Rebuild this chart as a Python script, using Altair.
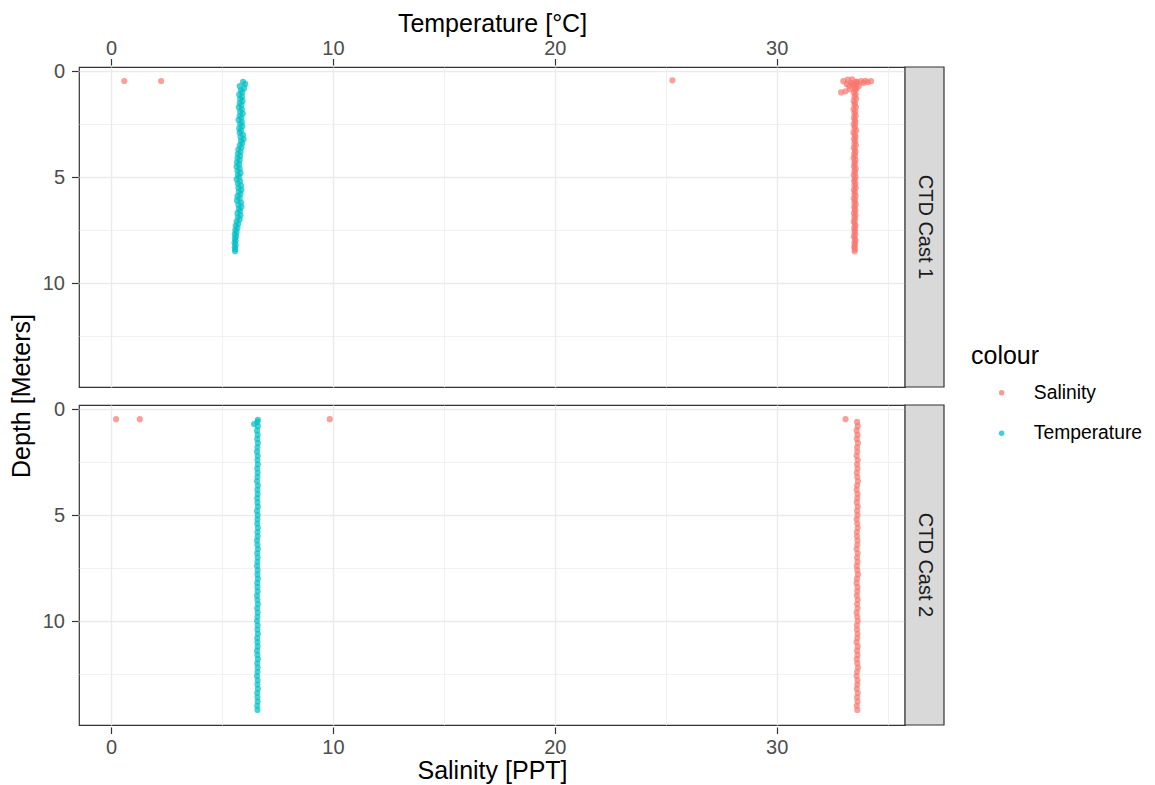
import altair as alt
import pandas as pd

# ---------------- data ----------------
cast_names = ["CTD Cast 1", "CTD Cast 2"]
series_names = ["Salinity", "Temperature"]

c1_depth = [0.5,0.6,0.7,0.8,0.9,1.0,1.1,1.2,1.3,1.4,1.5,1.6,1.7,1.8,1.9,2.0,2.1,2.2,2.3,2.4,
            2.5,2.6,2.7,2.8,2.9,3.0,3.1,3.2,3.3,3.4,3.5,3.6,3.7,3.8,3.9,4.0,4.1,4.2,4.3,4.4,
            4.5,4.6,4.7,4.8,4.9,5.0,5.1,5.2,5.3,5.4,5.5,5.6,5.7,5.8,5.9,6.0,6.1,6.2,6.3,6.4,
            6.5,6.6,6.7,6.8,6.9,7.0,7.1,7.2,7.3,7.4,7.5,7.6,7.7,7.8,7.9,8.0,8.1,8.2,8.3,8.4,8.5]
c1_temp = [5.95,6.05,5.80,6.00,5.85,5.92,5.78,5.90,5.82,5.93,
           5.80,5.88,5.76,5.90,5.82,5.94,5.80,5.88,5.75,5.90,
           5.82,5.92,5.78,5.86,5.80,5.95,5.84,5.98,5.86,5.92,
           5.80,5.88,5.74,5.84,5.72,5.82,5.70,5.80,5.68,5.78,
           5.66,5.80,5.70,5.84,5.72,5.78,5.66,5.82,5.72,5.86,
           5.74,5.88,5.76,5.84,5.70,5.80,5.68,5.86,5.74,5.88,
           5.76,5.82,5.70,5.84,5.72,5.80,5.66,5.74,5.62,5.70,
           5.60,5.66,5.58,5.64,5.58,5.62,5.57,5.62,5.58,5.60,
           5.59]
c1_sal = [33.60,33.42,33.70,33.50,33.55,33.48,33.56,33.50,33.58,33.47,
          33.53,33.50,33.57,33.46,33.54,33.50,33.56,33.48,33.52,33.55,
          33.47,33.53,33.50,33.58,33.46,33.52,33.55,33.48,33.54,33.50,
          33.57,33.47,33.52,33.55,33.49,33.53,33.46,33.55,33.50,33.52,
          33.48,33.56,33.50,33.53,33.47,33.55,33.51,33.49,33.54,33.50,
          33.56,33.48,33.52,33.50,33.55,33.47,33.53,33.50,33.56,33.49,
          33.52,33.54,33.48,33.55,33.50,33.53,33.47,33.52,33.55,33.49,
          33.53,33.50,33.54,33.48,33.52,33.55,33.50,33.53,33.49,33.52,
          33.51]
# surface readings of cast 1 (salinity spikes near the top)
c1_sal_top_depth = [0.46,0.46,0.43,1.00,0.47,0.38,0.47,0.47,0.52,0.60,0.70,0.85,0.40,0.55,0.45,0.60,0.50,0.65,0.80,0.55,0.95]
c1_sal_top = [0.60,2.26,25.30,32.90,33.00,33.40,33.80,34.25,34.10,33.60,33.25,33.30,33.20,33.90,34.00,33.15,33.60,33.45,33.60,33.35,33.10]

c2_depth = [0.6,0.8,1.0,1.2,1.4,1.6,1.8,2.0,2.2,2.4,2.6,2.8,3.0,3.2,3.4,3.6,3.8,4.0,4.2,4.4,
            4.6,4.8,5.0,5.2,5.4,5.6,5.8,6.0,6.2,6.4,6.6,6.8,7.0,7.2,7.4,7.6,7.8,8.0,8.2,8.4,
            8.6,8.8,9.0,9.2,9.4,9.6,9.8,10.0,10.2,10.4,10.6,10.8,11.0,11.2,11.4,11.6,11.8,12.0,12.2,12.4,
            12.6,12.8,13.0,13.2,13.4,13.6,13.8,14.0,14.2]
c2_temp = [6.60,6.62,6.58,6.61,6.59,6.62,6.60,6.58,6.61,6.60,
           6.62,6.59,6.61,6.60,6.58,6.62,6.60,6.61,6.59,6.60,
           6.62,6.58,6.61,6.60,6.59,6.62,6.60,6.61,6.58,6.60,
           6.62,6.59,6.61,6.60,6.58,6.61,6.60,6.62,6.59,6.60,
           6.61,6.58,6.60,6.62,6.59,6.61,6.60,6.58,6.61,6.60,
           6.62,6.59,6.60,6.61,6.58,6.60,6.62,6.59,6.61,6.60,
           6.58,6.61,6.60,6.62,6.59,6.60,6.61,6.59,6.60]
c2_sal = [33.62,33.65,33.60,33.64,33.61,33.66,33.62,33.63,33.60,33.65,
          33.62,33.64,33.61,33.63,33.66,33.62,33.60,33.64,33.63,33.61,
          33.65,33.62,33.64,33.60,33.63,33.65,33.61,33.62,33.64,33.63,
          33.60,33.65,33.62,33.64,33.61,33.63,33.66,33.62,33.60,33.64,
          33.63,33.61,33.65,33.62,33.64,33.60,33.63,33.65,33.61,33.62,
          33.64,33.63,33.60,33.65,33.62,33.64,33.61,33.63,33.66,33.62,
          33.60,33.64,33.63,33.61,33.65,33.62,33.64,33.61,33.63]
c2_sal_top_depth = [0.47,0.47,0.47,0.47]
c2_sal_top = [0.23,1.30,9.86,33.10]
c2_temp_top_depth = [0.70,0.50]
c2_temp_top = [6.45,6.62]

x_ticks = [0, 5, 10, 15, 20, 25, 30, 35]
y_ticks = [0, 2.5, 5, 7.5, 10, 12.5]

# ---------------- long table ----------------
rows = []
def add(cast, var, depths, vals):
    for d, v in zip(depths, vals):
        rows.append({"cast": cast, "variable": var, "depth": d, "value": v})

add(cast_names[0], "Salinity", c1_sal_top_depth, c1_sal_top)
add(cast_names[0], "Salinity", c1_depth, c1_sal)
add(cast_names[0], "Temperature", c1_depth, c1_temp)
add(cast_names[1], "Salinity", c2_sal_top_depth, c2_sal_top)
add(cast_names[1], "Salinity", c2_depth, c2_sal)
add(cast_names[1], "Temperature", c2_temp_top_depth, c2_temp_top)
add(cast_names[1], "Temperature", c2_depth, c2_temp)
df = pd.DataFrame(rows)

W, H = 826, 320
STRIP = 39
FONT = "Liberation Sans"
PT = 38
OPA = 0.7
TITLE_FS = 25
LABEL_FS = 20

xscale = alt.Scale(domain=[-1.44, 35.78], nice=False, zero=False)
yscale = alt.Scale(domain=[-0.2, 14.91], nice=False, zero=False, reverse=True)

major_x = "datum.value % 10 === 0"
major_y = "datum.value % 5 === 0"

def xaxis(orient, title, grid, label_pad, title_pad):
    return alt.Axis(
        orient=orient, title=title, values=x_ticks, grid=grid,
        labelExpr=f"{major_x} ? datum.label : ''",
        gridColor="#EBEBEB",
        gridWidth={"condition": {"test": major_x, "value": 1.4}, "value": 0.7},
        tickOpacity={"condition": {"test": major_x, "value": 1}, "value": 0},
        tickColor="#333333", tickSize=6.5, tickWidth=1.2, domain=False,
        labelColor="#4D4D4D", labelFontSize=LABEL_FS, labelFont=FONT, labelPadding=label_pad,
        titleFont=FONT, titleFontSize=TITLE_FS, titleFontWeight="normal", titleColor="#000000",
        titlePadding=title_pad,
    )

yaxis = alt.Axis(
    title=None, values=y_ticks, grid=True,
    labelExpr=f"{major_y} ? datum.label : ''",
    gridColor="#EBEBEB",
    gridWidth={"condition": {"test": major_y, "value": 1.4}, "value": 0.7},
    tickOpacity={"condition": {"test": major_y, "value": 1}, "value": 0},
    tickColor="#333333", tickSize=6.5, tickWidth=1.2, domain=False,
    labelColor="#4D4D4D", labelFontSize=LABEL_FS, labelFont=FONT, labelPadding=7,
)

color = alt.Color(
    "variable:N",
    scale=alt.Scale(domain=series_names, range=["#F8766D", "#00BFC4"]),
    legend=alt.Legend(
        title="colour", orient="none", legendX=892, legendY=277,
        titleFont=FONT, titleFontSize=TITLE_FS, titleFontWeight="normal", titleColor="#000000",
        titlePadding=14, labelFont=FONT, labelFontSize=19.3, labelColor="#000000",
        symbolType="circle", symbolSize=30, symbolOpacity=0.75, symbolOffset=21,
        labelOffset=22.5, rowPadding=20.5,
    ),
)

sal = alt.Chart().transform_filter("datum.variable === 'Salinity'").mark_circle(
    size=PT, opacity=OPA).encode(
    x=alt.X("value:Q", scale=xscale, axis=xaxis("bottom", "Salinity [PPT]", True, 4, 1)),
    y=alt.Y("depth:Q", scale=yscale, axis=yaxis),
    color=color,
)
temp = alt.Chart().transform_filter("datum.variable === 'Temperature'").mark_circle(
    size=PT, opacity=OPA).encode(
    x=alt.X("value:Q", scale=xscale, axis=xaxis("top", "Temperature [°C]", False, 0, 2)),
    y=alt.Y("depth:Q", scale=yscale, axis=yaxis),
    color=color,
)
strip_rect = alt.Chart().transform_aggregate(n="count()", groupby=["cast"]).mark_rect(
    fill="#D9D9D9", stroke="#333333", strokeWidth=1.2).encode(
    x=alt.value(W), x2=alt.value(W + STRIP), y=alt.value(0), y2=alt.value(H))
strip_text = alt.Chart().transform_aggregate(n="count()", groupby=["cast"]).mark_text(
    angle=90, font=FONT, fontSize=LABEL_FS, color="#1A1A1A", align="center", baseline="middle").encode(
    x=alt.value(W + STRIP / 2), y=alt.value(H / 2), text="cast:N")

layered = alt.layer(sal, temp, strip_rect, strip_text, data=df).properties(width=W, height=H)

chart = layered.facet(
    row=alt.Row("cast:N", title="Depth [Meters]",
                header=alt.Header(labels=False, titleFont=FONT, titleFontSize=TITLE_FS,
                                  titleFontWeight="normal", titleColor="#000000",
                                  titleOrient="left", titlePadding=-3)),
    spacing=14,
).properties(
    padding={"left": 1, "top": 3, "right": 0, "bottom": 0}
).configure_view(stroke="#333333", strokeWidth=1.2)

chart.save("out.html", embed_options={"renderer": "svg", "actions": False})
